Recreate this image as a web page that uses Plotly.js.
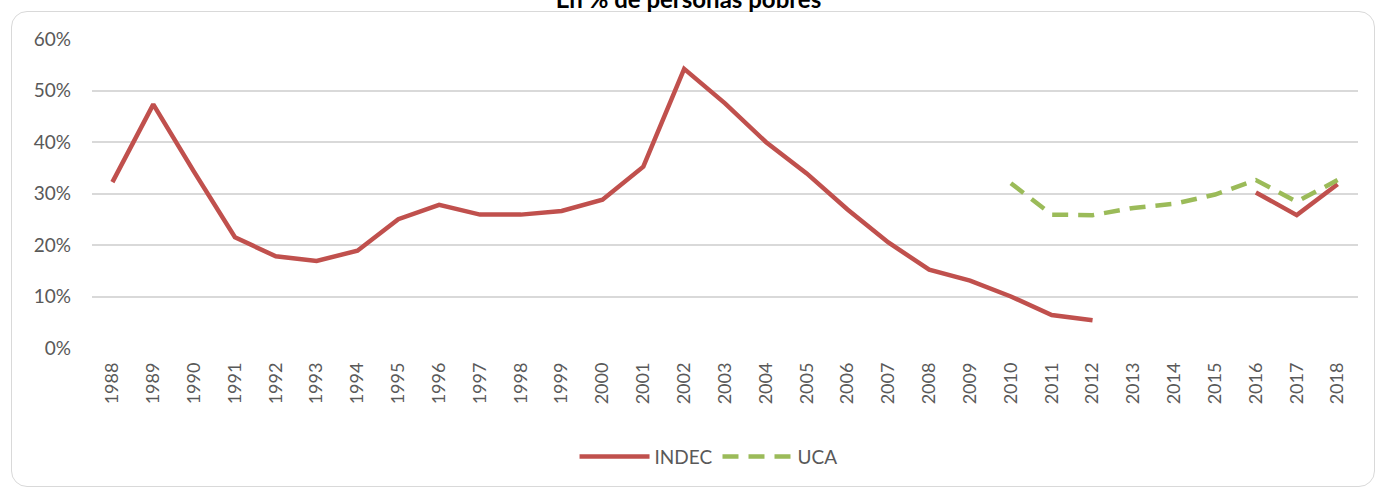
<!DOCTYPE html>
<html>
<head>
<meta charset="utf-8">
<script src="https://cdn.plot.ly/plotly-3.0.1.min.js"></script>
<style>
  html, body { margin: 0; padding: 0; background: #fff; }
  #frame {
    position: absolute; left: 11px; top: 11px; width: 1364px; height: 476px;
    border: 1.5px solid #d9d9d9; border-radius: 16px; box-sizing: border-box;
  }
  #chart { position: absolute; left: 0; top: 0; width: 1377px; height: 487px; }
</style>
</head>
<body>
<div id="frame"></div>
<div id="chart"></div>
<script>
const years = [];
for (let y = 1988; y <= 2018; y++) years.push(String(y));

// % of poor people (null = no data)
const indec = [
  0.322, 0.473, 0.342, 0.215, 0.178, 0.169, 0.189, 0.250, 0.278, 0.259,
  0.259, 0.266, 0.288, 0.352, 0.542, 0.475, 0.400, 0.339, 0.269, 0.205,
  0.152, 0.131, 0.100, 0.064, 0.054, null, null, null, 0.302, 0.258, 0.318
];
const uca = [
  null, null, null, null, null, null, null, null, null, null,
  null, null, null, null, null, null, null, null, null, null,
  null, null, 0.320, 0.259, 0.258, 0.272, 0.280, 0.298, 0.326, 0.284, 0.326
];

const yTicks = [0, 0.1, 0.2, 0.3, 0.4, 0.5, 0.6];
const yTickText = ["0%", "10%", "20%", "30%", "40%", "50%", "60%"];

const font = "Lato, 'Open Sans', sans-serif";

Plotly.newPlot(
  "chart",
  [
    {
      type: "scatter",
      mode: "lines",
      name: "INDEC",
      x: years,
      y: indec,
      connectgaps: false,
      line: { color: "#c0504d", width: 4.5 }
    },
    {
      type: "scatter",
      mode: "lines",
      name: "UCA",
      x: years,
      y: uca,
      connectgaps: false,
      line: { color: "#9bbb59", width: 4.5, dash: "16px,10px" }
    }
  ],
  {
    width: 1377,
    height: 487,
    paper_bgcolor: "rgba(0,0,0,0)",
    plot_bgcolor: "rgba(0,0,0,0)",
    margin: { l: 92, r: 19, t: 39, b: 135 },
    title: {
      text: "<b>En % de personas pobres</b>",
      font: { family: font, size: 24, color: "#000" },
      x: 0.5,
      xanchor: "center",
      y: 1,
      yref: "container",
      yanchor: "middle"
    },
    xaxis: {
      type: "category",
      range: [-0.5, years.length - 0.5],
      tickangle: -90,
      tickfont: { family: font, size: 18, color: "#595959" },
      showgrid: false,
      zeroline: false,
      showline: false,
      ticks: "",
      ticklabelstandoff: 10
    },
    yaxis: {
      range: [0, 0.6],
      tickvals: yTicks,
      ticktext: yTickText,
      tickfont: { family: font, size: 19, color: "#595959" },
      gridcolor: "#d9d9d9",
      gridwidth: 1.5,
      zeroline: false,
      showline: false,
      ticks: "",
      ticklabelstandoff: 20
    },
    showlegend: true,
    legend: {
      orientation: "h",
      x: 0.487,
      xanchor: "center",
      y: -0.29,
      yanchor: "top",
      font: { family: font, size: 19, color: "#595959" },
      itemwidth: 70
    }
  },
  { displayModeBar: false, responsive: false }
);
</script>
</body>
</html>
